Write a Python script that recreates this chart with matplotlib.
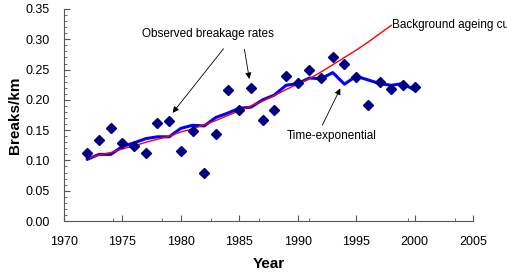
import matplotlib
matplotlib.use("Agg")
import matplotlib.pyplot as plt
from matplotlib.ticker import MultipleLocator, FixedLocator, FormatStrFormatter

plt.rcParams['font.family'] = ['Liberation Sans', 'DejaVu Sans']

years = list(range(1972, 2001))
observed = [0.112, 0.134, 0.154, 0.128, 0.123, 0.112, 0.161, 0.165, 0.116, 0.149,
            0.079, 0.143, 0.216, 0.184, 0.219, 0.166, 0.184, 0.240, 0.228, 0.249,
            0.236, 0.271, 0.259, 0.238, 0.191, 0.229, 0.218, 0.224, 0.221]
time_exp = [0.102, 0.110, 0.110, 0.123, 0.129, 0.136, 0.139, 0.139, 0.153, 0.158,
            0.157, 0.171, 0.178, 0.186, 0.188, 0.200, 0.208, 0.224, 0.227, 0.236,
            0.235, 0.245, 0.226, 0.239, 0.233, 0.227, 0.224, 0.227, 0.216]
bg_years = list(range(1972, 1999))
background = [0.104, 0.109, 0.113, 0.119, 0.124, 0.130, 0.135, 0.140, 0.147, 0.152,
              0.159, 0.166, 0.174, 0.182, 0.190, 0.198, 0.207, 0.217, 0.226, 0.235,
              0.246, 0.258, 0.270, 0.282, 0.295, 0.309, 0.323]
x_minor = [1974.2, 1978.4, 1982.6, 1986.7, 1991.0, 1995.0, 1999.4, 2003.5]

fig = plt.figure(figsize=(5.07, 2.75), dpi=100)
ax = fig.add_axes([64/507, 1 - 221/275, (473-64)/507, (221-9)/275])

ax.plot(years, time_exp, color='#0000ff', lw=2.2, zorder=2)
ax.plot(bg_years, background, color='#ff0000', lw=1.0, zorder=3)
ax.plot(years, observed, linestyle='none', marker='D', ms=5.5, color='#000080', zorder=4)

ax.set_xlim(1970, 2005)
ax.set_ylim(0, 0.35)
ax.xaxis.set_major_locator(MultipleLocator(5))
ax.xaxis.set_minor_locator(FixedLocator(x_minor))
ax.yaxis.set_major_locator(MultipleLocator(0.05))
ax.yaxis.set_minor_locator(MultipleLocator(0.01))
ax.yaxis.set_major_formatter(FormatStrFormatter('%.2f'))
for s in ['top', 'right']:
    ax.spines[s].set_visible(False)
for s in ['left', 'bottom']:
    ax.spines[s].set_color('#555555')
    ax.spines[s].set_linewidth(0.8)
ax.tick_params(axis='both', which='both', direction='in', colors='#555555', labelcolor='black', labelsize=9)
ax.tick_params(axis='both', which='major', length=4, width=0.8)
ax.tick_params(axis='both', which='minor', length=2, width=0.6)
ax.tick_params(axis='x', pad=11)
ax.tick_params(axis='y', pad=10)

ax.set_xlabel('Year', fontsize=11, fontweight='bold', labelpad=6)
ax.set_ylabel('Breaks/km', fontsize=11, fontweight='bold', labelpad=3)

arrow = dict(arrowstyle='-|>', color='black', lw=0.6, mutation_scale=9)
ax.text(1982.35, 0.3085, 'Observed breakage rates', ha='center', va='center', fontsize=8.5)
ax.annotate('', xy=(1979.15, 0.175), xytext=(1983.8, 0.288), arrowprops=arrow)
ax.annotate('', xy=(1985.9, 0.230), xytext=(1985.4, 0.288), arrowprops=arrow)
ax.text(1992.9, 0.140, 'Time-exponential', ha='center', va='center', fontsize=8.5)
ax.annotate('', xy=(1993.75, 0.223), xytext=(1992.0, 0.154), arrowprops=arrow)
ax.text(1998.1, 0.323, 'Background ageing curve', ha='left', va='center', fontsize=8.5)

fig.savefig('out.png', dpi=100)
